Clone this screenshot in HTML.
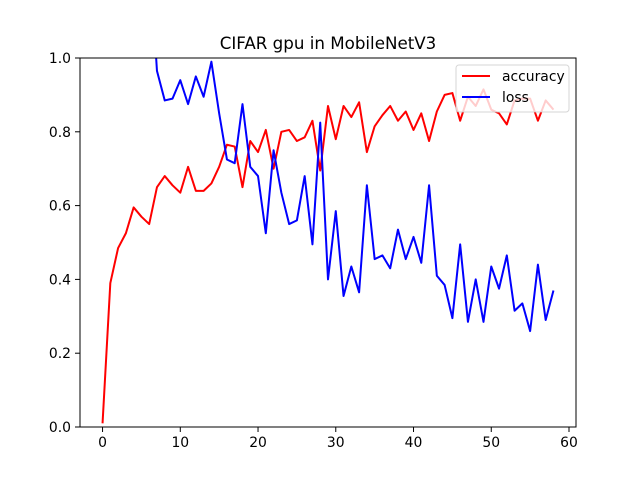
<!DOCTYPE html>
<html><head><meta charset="utf-8"><style>body{margin:0;background:#fff}svg{display:block;font-family:"DejaVu Sans","Liberation Sans",sans-serif}</style></head>
<body>
<svg id="chart" width="640" height="480">
<rect width="640" height="480" fill="#fff"/>
<text x="328" y="49" text-anchor="middle" font-size="16.7">CIFAR gpu in MobileNetV3</text>
<defs><clipPath id="clip"><rect x="80" y="58" width="496" height="369"/></clipPath></defs>
<g id="ticks"></g>
<g id="series" clip-path="url(#clip)"></g>
<rect x="80" y="58" width="496" height="369" fill="none" stroke="#000" stroke-width="1"/>
<g>
<rect x="456" y="65" width="113" height="47" rx="3" fill="#fff" fill-opacity="0.8" stroke="#ccc" stroke-opacity="0.8"/>
<g><line x1="462" y1="76" x2="490" y2="76" stroke="red" stroke-width="2"/><text x="502" y="81" font-size="13.9">accuracy</text></g>
<g><line x1="462" y1="97" x2="490" y2="97" stroke="blue" stroke-width="2"/><text x="502" y="102" font-size="13.9">loss</text></g>
</g>
</svg>
<script>
const accuracy=[0.01,0.39,0.485,0.525,0.595,0.57,0.55,0.65,0.68,0.655,0.635,0.705,0.64,0.64,0.66,0.705,0.765,0.76,0.65,0.775,0.745,0.805,0.70,0.80,0.805,0.775,0.785,0.83,0.695,0.87,0.78,0.87,0.84,0.88,0.745,0.815,0.845,0.87,0.83,0.855,0.805,0.85,0.775,0.855,0.90,0.905,0.83,0.895,0.87,0.915,0.86,0.85,0.82,0.885,0.89,0.89,0.83,0.885,0.86];
const lossStart=6;
const loss=[1.3,0.965,0.885,0.89,0.94,0.875,0.95,0.895,0.99,0.85,0.725,0.715,0.875,0.705,0.68,0.525,0.75,0.635,0.55,0.56,0.68,0.495,0.825,0.40,0.585,0.355,0.435,0.365,0.655,0.455,0.465,0.43,0.535,0.455,0.515,0.445,0.655,0.41,0.385,0.295,0.495,0.285,0.40,0.285,0.435,0.375,0.465,0.315,0.335,0.26,0.44,0.29,0.37];
const xTicks=[0,10,20,30,40,50,60];
const yTicks=[0,0.2,0.4,0.6,0.8,1.0];
const X=v=>80+(v+2.9)/63.8*496;
const Y=v=>427-v*369;
const NS="http://www.w3.org/2000/svg";
const tg=document.getElementById('ticks'),sg=document.getElementById('series');
function mk(tag,a,p){const e=document.createElementNS(NS,tag);for(const k in a)e.setAttribute(k,a[k]);p.appendChild(e);return e;}
xTicks.forEach(t=>{
const l=mk('line',{x1:X(t),x2:X(t),y1:427,y2:432,stroke:'#000'},tg);


const s=mk('text',{x:X(t),y:447,'text-anchor':'middle','font-size':13.9},tg);s.textContent=t;


});
yTicks.forEach(t=>{
const l=mk('line',{x1:75,x2:80,y1:Y(t),y2:Y(t),stroke:'#000'},tg);


const s=mk('text',{x:71,y:Y(t)+5,'text-anchor':'end','font-size':13.9},tg);s.textContent=t.toFixed(1);


});
const pa=mk('polyline',{points:accuracy.map((v,i)=>X(i)+','+Y(v)).join(' '),fill:'none',stroke:'red','stroke-width':2,'stroke-linejoin':'round'},sg);


const pl=mk('polyline',{points:loss.map((v,i)=>X(i+lossStart)+','+Y(v)).join(' '),fill:'none',stroke:'blue','stroke-width':2,'stroke-linejoin':'round'},sg);


</script>
</body></html>
